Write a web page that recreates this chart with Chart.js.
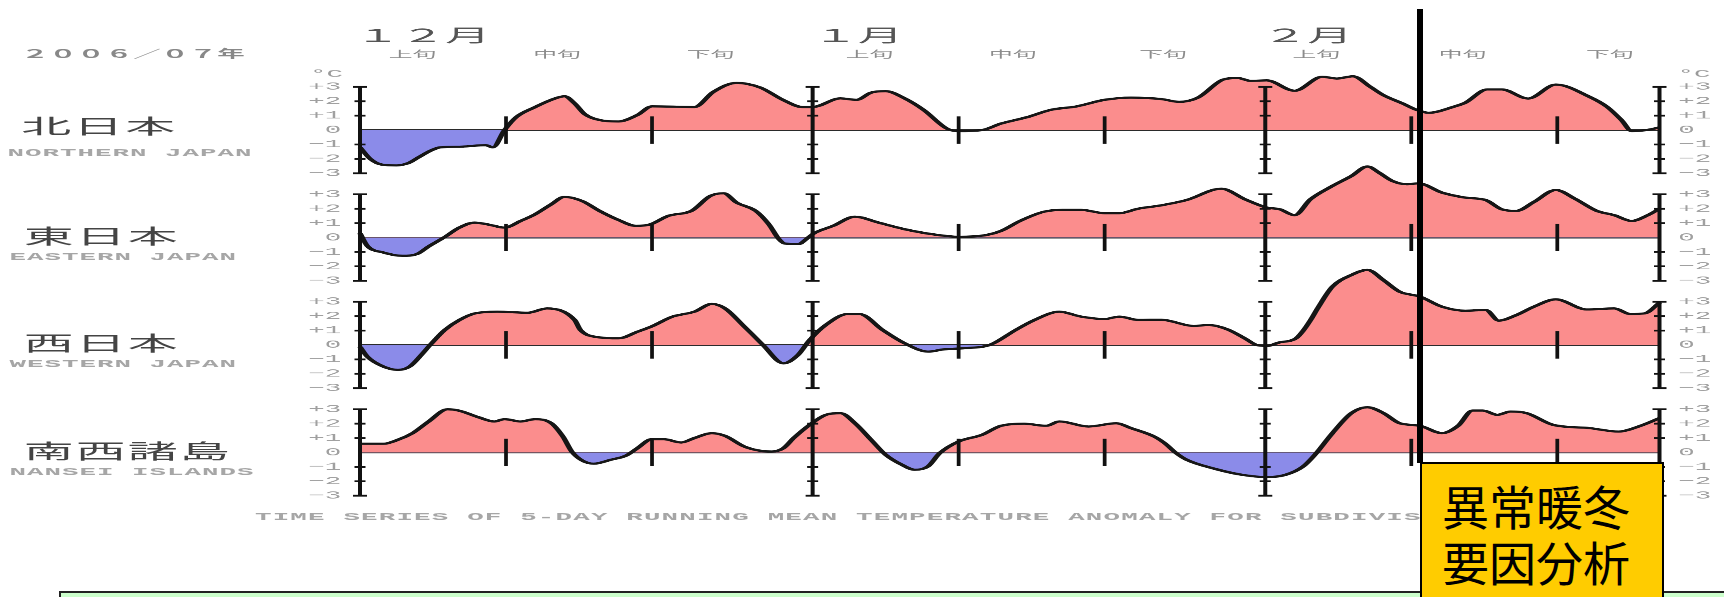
<!DOCTYPE html>
<html lang="ja">
<head>
<meta charset="utf-8">
<title>2006/07年 地域別5日移動平均気温平年差</title>
<script src="https://cdn.jsdelivr.net/npm/chart.js@4.4.1/dist/chart.umd.min.js"></script>
<style>
  html, body { margin: 0; padding: 0; background: #fff; }
  body { position: relative; width: 1724px; height: 597px; overflow: hidden; }
  /* the source figure is stretched 2.5x sideways: draw it narrow, then stretch it */
  #wide { position: absolute; left: 0; top: 0; width: 690px; height: 597px; transform: scaleX(2.5); transform-origin: 0 0; }
  #wide canvas { position: absolute; left: 0; top: 0; }
  .t { position: absolute; white-space: nowrap; line-height: 1; }
  .region { font: 20px "Noto Sans CJK JP", sans-serif; color: #444; letter-spacing: 0.8px; }
  .eng { font: bold 11px "Liberation Mono", monospace; color: #a6a6a6; letter-spacing: 0.4px; }
  .year { font: bold 11px "Noto Sans CJK JP", sans-serif; color: #888; letter-spacing: 0.2px; }
  .unit { font: 11px "Liberation Mono", monospace; color: #9a9a9a; }
  .caption { font: bold 11px "Liberation Mono", monospace; color: #a6a6a6; letter-spacing: 0.47px; }
  #pointer { position: absolute; left: 1417px; top: 9px; width: 6px; height: 454px; background: #000; }
  #note { position: absolute; left: 59px; top: 591px; width: 1700px; height: 30px; background: #ccffcc; border-top: 2px solid #222; border-left: 2px solid #222; }
  #label { position: absolute; left: 1420px; top: 462px; width: 220px; height: 160px; background: #ffcc00; border: 2px solid #000;
           padding: 13px 0 0 20px; font: 47px/56px "Noto Sans CJK JP", sans-serif; color: #000; }
</style>
</head>
<body>
<div id="wide">
  <canvas id="anomaly" width="690" height="597"></canvas>
  <div class="t year" style="left:8.5px; top:45px;">２００６／０７年</div>
  <div class="t unit" style="left:124px; top:68px;">°C</div>
  <div class="t unit" style="left:671px; top:68px;">°C</div>

  <div class="t region" style="left:8.5px; top:111px;">北日本</div>
  <div class="t eng" style="left:3px; top:147px;">NORTHERN JAPAN</div>
  <div class="t region" style="left:9.5px; top:221px;">東日本</div>
  <div class="t eng" style="left:3.8px; top:251px;">EASTERN JAPAN</div>
  <div class="t region" style="left:9.5px; top:328px;">西日本</div>
  <div class="t eng" style="left:3.8px; top:358px;">WESTERN JAPAN</div>
  <div class="t region" style="left:9.5px; top:436px;">南西諸島</div>
  <div class="t eng" style="left:3.8px; top:465.5px;">NANSEI ISLANDS</div>

  <div class="t caption" style="left:102px; top:511px;">TIME SERIES OF 5-DAY RUNNING MEAN TEMPERATURE ANOMALY FOR SUBDIVISIONS</div>
</div>
<div id="note"></div>
<div id="pointer"></div>
<div id="label">異常暖冬<br>要因分析</div>

<script>
// day 0 = Dec 1 2006, day 31 = Jan 1, day 62 = Feb 1, day 89 = Feb 28
const monthLabels = ['１２月', '１月', '２月'];
const monthDays = [4.3, 34.1, 64.9];
const junLabels = ['上旬', '中旬', '下旬', '上旬', '中旬', '下旬', '上旬', '中旬', '下旬'];
const junDays = [3.6, 13.5, 24, 34.9, 44.7, 55, 65.5, 75.5, 85.6];
const monthStartDays = [0, 31, 62, 89];
const junStartDays = [10, 20, 41, 51, 72, 82];
const anomalyTicks = [-3, -2, -1, 0, 1, 2, 3];

const northDays = [0, 0.7, 1.5, 2.5, 3.3, 4, 4.9, 5.5, 7, 8.6, 9.1, 9.9, 10.7, 12, 13.1, 14, 14.7, 15.4, 16.4, 17.7,
    19, 20, 22.9, 24.2, 25.8, 27.4, 29, 30.3, 31, 32.9, 34, 35, 36, 37.3, 38.6, 40.2, 40.9, 42.6, 43.9, 45.7,
    47.3, 49.1, 51, 52.8, 54.9, 56.1, 57.4, 59.1, 60.1, 61, 62.1, 64, 65.9, 66.9, 68, 69.2, 70.1, 71.4, 72.4, 73.2,
    74.9, 75.7, 77.2, 78.2, 80, 81.9, 84.2, 85.4, 86.4, 87.1, 88.1, 89];
const northAnom = [-1.2, -2.0, -2.4, -2.45, -2.3, -1.9, -1.4, -1.2, -1.15, -1.05, -1.2, 0, 0.9, 1.6, 2.1, 2.35, 1.85, 1.1, 0.7, 0.6,
    1.05, 1.65, 1.6, 2.65, 3.28, 2.96, 2.08, 1.6, 1.6, 2.2, 2.1, 2.6, 2.7, 2.2, 1.4, 0.1, -0.07, 0, 0.45, 0.9,
    1.4, 1.65, 2.1, 2.25, 2.15, 1.96, 2.26, 3.5, 3.62, 3.42, 3.45, 2.73, 3.7, 3.58, 3.74, 3.0, 2.42, 1.85, 1.39, 1.2,
    1.62, 1.9, 2.82, 2.82, 2.19, 3.16, 2.31, 1.62, 0.69, -0.07, 0, 0.18];

const eastDays = [0, 0.5, 1.6, 2.9, 3.9, 4.7, 5.75, 6.8, 7.85, 8.9, 9.9, 11, 12, 13.1, 14, 15.2, 16.4, 17.7, 18.9, 19.9,
    21.1, 22.7, 24, 24.9, 25.8, 27.1, 28, 28.7, 29.1, 30, 30.7, 31.1, 32.4, 33.9, 35.5, 37.3, 39.2, 41, 42.8, 43.9,
    45.2, 46.8, 48.1, 49.4, 51, 52, 53.3, 54.9, 56.6, 59, 60.6, 62.1, 63, 64, 65.1, 66.6, 67.9, 69, 69.8, 70.7,
    71.7, 72.5, 74.1, 75.7, 77.1, 78.2, 79.2, 80.4, 81.9, 83.2, 84.7, 85.9, 87.1, 88.2, 89];
const eastAnom = [0.3, -0.58, -1.04, -1.27, -1.15, -0.62, 0, 0.69, 1.04, 0.88, 0.69, 1.15, 1.62, 2.31, 2.82, 2.54, 1.85, 1.22, 0.81, 0.92,
    1.5, 1.85, 2.89, 3.07, 2.42, 1.85, 0.92, -0.12, -0.42, -0.46, 0, 0.3, 0.81, 1.45, 1.04, 0.58, 0.23, 0.05, 0.16, 0.46,
    1.15, 1.78, 1.92, 1.92, 1.69, 1.69, 2.0, 2.24, 2.6, 3.39, 2.66, 2.08, 1.96, 1.55, 2.66, 3.58, 4.27, 4.93, 4.5, 3.93,
    3.7, 3.76, 3.12, 2.77, 2.6, 1.96, 1.85, 2.47, 3.3, 2.7, 1.85, 1.55, 1.15, 1.55, 2.0];

const westDays = [0, 0.5, 1.6, 2.6, 3.4, 4.2, 4.8, 5.8, 6.8, 7.9, 9.4, 11.5, 12.8, 14.7, 15.1, 16.4, 17.7, 19, 20, 21.4,
    22.9, 24.1, 25, 26.3, 26.8, 27.6, 29, 30, 30.8, 31.9, 33.4, 34.2, 35.8, 37.3, 38.9, 40, 41.3, 42.9, 43.4, 44.9,
    46.2, 47.9, 49.4, 51, 52, 53.3, 54.9, 57.1, 58.1, 59.4, 60.6, 61.4, 62.1, 62.9, 64.1, 64.6, 65.1, 65.6, 66.6, 67.9,
    69, 70.1, 71.2, 72.6, 74.1, 75.7, 77.1, 78, 79.2, 80.4, 81.9, 84, 85.9, 87, 88, 89];
const westAnom = [-0.12, -0.81, -1.5, -1.73, -1.5, -0.69, 0, 1.04, 1.73, 2.2, 2.31, 2.24, 2.54, 1.74, 1.04, 0.53, 0.46, 0.92, 1.3, 1.97,
    2.31, 2.85, 2.54, 1.3, 0.81, 0, -1.27, -0.69, 0.35, 1.39, 2.15, 2.15, 1.04, 0.12, -0.46, -0.3, -0.23, -0.07, 0.12, 1.04,
    1.74, 2.31, 1.97, 1.8, 1.97, 1.74, 1.75, 1.32, 1.39, 1.09, 0.46, 0, -0.07, 0.16, 0.46, 1.0, 1.73, 2.57, 4.05, 4.86,
    5.21, 4.5, 3.7, 3.36, 2.66, 2.38, 2.43, 1.69, 2.08, 2.66, 3.17, 2.47, 2.54, 2.15, 2.2, 2.94];

const nanseiDays = [0, 1.6, 2.6, 3.6, 4.7, 6, 6.8, 8.1, 9.2, 9.9, 11, 12, 13.1, 13.9, 14.5, 15.2, 16, 17.2, 18.2, 19,
    20, 20.8, 22, 22.9, 24.1, 25, 26.3, 27.4, 28.2, 29, 29.7, 30.8, 31.9, 32.9, 33.9, 35, 36, 37.1, 38, 38.9,
    39.7, 41, 42.6, 43.9, 45.5, 47, 47.9, 49.9, 51.8, 52.8, 54.4, 55.1, 55.9, 56.6, 58.6, 60.4, 62.1, 63.4, 64.6, 65.4,
    66.6, 67.9, 69, 70.1, 71.2, 72.6, 74.1, 75.2, 76.2, 76.9, 77.9, 78.8, 79.9, 81.7, 84.2, 86.2, 87.7, 89];
const nanseiAnom = [0.6, 0.6, 0.88, 1.34, 2.15, 3.0, 2.9, 2.45, 2.15, 2.31, 2.15, 2.31, 2.03, 1.1, 0.07, -0.55, -0.78, -0.5, -0.23, 0.3,
    0.92, 0.92, 0.69, 1.0, 1.34, 1.15, 0.42, 0.12, 0.07, 0.3, 1.0, 1.92, 2.61, 2.73, 2.03, 0.88, -0.16, -0.85, -1.2, -0.97,
    -0.05, 0.76, 1.22, 1.85, 1.99, 1.85, 2.15, 1.8, 2.03, 1.69, 1.1, 0.65, -0.05, -0.5, -1.15, -1.55, -1.71, -1.55, -0.97, -0.16,
    1.34, 2.73, 3.14, 2.73, 2.03, 1.85, 1.34, 1.85, 2.91, 2.91, 2.61, 2.84, 2.73, 1.92, 1.69, 1.45, 1.85, 2.38];

const panelAxes = ['yN', 'yE', 'yW', 'yS'];
const tickFont = { family: "'Liberation Mono', monospace", size: 11 };
const cjkFont = "'Noto Sans CJK JP', sans-serif";

function signed(v) {
    if (v > 0) return '+' + v;
    if (v < 0) return '\u2212' + (-v);
    return '0';
}

function series(days, anom, axis) {
    return {
        data: days.map((d, i) => ({ x: d, y: anom[i] })),
        yAxisID: axis,
        borderColor: '#161616',
        borderWidth: 2.2,
        pointRadius: 0,
        cubicInterpolationMode: 'monotone',
        fill: { target: 'origin', above: '#fb8d8d', below: '#8b8be9' },
        clip: false
    };
}

function panelAxis(side, weight) {
    const left = side === 'left';
    return {
        type: 'linear',
        position: side,
        stack: left ? 'panels' : 'panelsRight',
        stackWeight: 1,
        weight: left ? weight : -weight,
        min: -3.73,
        max: 3.73,
        z: 1,
        afterBuildTicks: s => { s.ticks = anomalyTicks.map(v => ({ value: v })); },
        border: { display: false },
        grid: left ? {
            drawTicks: false,
            lineWidth: 1.6,
            color: c => (c.tick && c.tick.value === 0) ? '#2a2a2a' : 'rgba(0,0,0,0)'
        } : { display: false, drawTicks: false },
        ticks: { autoSkip: false, padding: 7.5, color: '#a0a0a0', font: tickFont, callback: signed },
        afterFit: s => { s.width = left ? 144 : 26.2; }
    };
}

// month frames, degree ticks and 10-day ticks of every panel
const axisFrames = {
    id: 'axisFrames',
    afterDatasetsDraw(chart) {
        const ctx = chart.ctx;
        const x = chart.scales.x;
        const stroke = (x1, y1, x2, y2, w) => {
            ctx.lineWidth = w;
            ctx.beginPath();
            ctx.moveTo(x1, y1);
            ctx.lineTo(x2, y2);
            ctx.stroke();
        };
        ctx.save();
        ctx.strokeStyle = '#111';
        panelAxes.forEach(id => {
            const y = chart.scales[id];
            monthStartDays.forEach(d => {
                const px = x.getPixelForValue(d);
                stroke(px, y.getPixelForValue(3), px, y.getPixelForValue(-3), 1.6);
                anomalyTicks.filter(v => v !== 0).forEach(v => {
                    const half = Math.abs(v) === 3 ? 2.8 : 2.2;
                    stroke(px - half, y.getPixelForValue(v), px + half, y.getPixelForValue(v), 1.8);
                });
            });
            junStartDays.forEach(d => {
                const px = x.getPixelForValue(d);
                stroke(px, y.getPixelForValue(0.95), px, y.getPixelForValue(-0.95), 1.5);
            });
        });
        ctx.restore();
    }
};

const scales = {
    x: { type: 'linear', min: 0, max: 89, display: false },
    xMonth: {
        type: 'linear', position: 'top', weight: 2, min: 0, max: 89,
        grid: { display: false, drawTicks: false }, border: { display: false },
        afterBuildTicks: s => { s.ticks = monthDays.map(v => ({ value: v })); },
        ticks: { autoSkip: false, maxRotation: 0, padding: 0, color: '#555',
                 font: { family: cjkFont, size: 18 }, callback: (v, i) => monthLabels[i] },
        afterFit: s => { s.height = 46; }
    },
    xJun: {
        type: 'linear', position: 'top', weight: 1, min: 0, max: 89,
        grid: { display: false, drawTicks: false }, border: { display: false },
        afterBuildTicks: s => { s.ticks = junDays.map(v => ({ value: v })); },
        ticks: { autoSkip: false, maxRotation: 0, padding: 16.6, color: '#8c8c8c',
                 font: { family: cjkFont, size: 9.5 }, callback: (v, i) => junLabels[i] },
        afterFit: s => { s.height = 30.3; }
    }
};
panelAxes.forEach((id, i) => {
    scales[id] = panelAxis('left', 4 - i);
    scales[id + 'R'] = panelAxis('right', 4 - i);
});

new Chart(document.getElementById('anomaly'), {
    type: 'line',
    data: {
        datasets: [
            series(northDays, northAnom, 'yN'),
            series(eastDays, eastAnom, 'yE'),
            series(westDays, westAnom, 'yW'),
            series(nanseiDays, nanseiAnom, 'yS')
        ]
    },
    options: {
        responsive: false,
        devicePixelRatio: 2.5,
        animation: false,
        events: [],
        layout: { padding: { top: 0, bottom: 91 } },
        plugins: { legend: { display: false }, tooltip: { enabled: false } },
        scales: scales
    },
    plugins: [axisFrames]
});
</script>
</body>
</html>
